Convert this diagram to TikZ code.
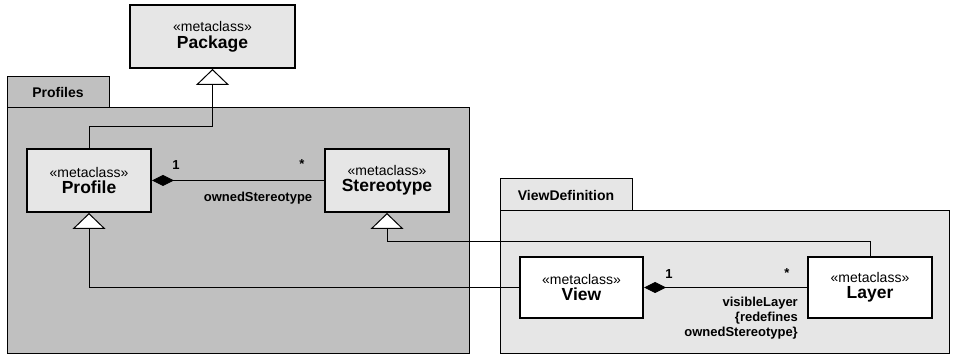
\documentclass[tikz,border=0pt]{standalone}
\usepackage{fontspec}
\setmainfont{Liberation Sans}
\usetikzlibrary{arrows.meta}
\definecolor{pkgdark}{HTML}{C0C0C0}
\definecolor{pkglight}{HTML}{E6E6E6}
\tikzset{
  cls/.style={draw, line width=2pt, minimum width=124pt, minimum height=62pt, align=center, inner sep=0pt},
  pkgshape/.style={draw, line width=1pt, inner sep=0pt},
  conn/.style={line width=1pt},
  gen/.style={conn, -{Triangle[width=33pt,length=16pt,fill=white]}},
  comp/.style={conn, {Diamond[width=11pt,length=22pt]}-},
  mult/.style={font=\fontsize{13}{15}\selectfont\bfseries, inner sep=0pt},
  role/.style={font=\fontsize{13}{15}\selectfont\bfseries, inner sep=0pt, align=right},
  pkglabel/.style={font=\fontsize{14}{16}\selectfont\bfseries, inner sep=0pt}
}
\newcommand{\metacls}[1]{{\fontsize{14}{17}\selectfont «metaclass»}\\[3pt]{\fontsize{17.5}{20}\selectfont\bfseries #1}}
\begin{document}
\begin{tikzpicture}[x=1pt,y=-1pt]
\useasboundingbox (0,0) rectangle (953,355);
% Profiles package
\node[pkgshape, fill=pkgdark, minimum width=102pt, minimum height=31pt] (proftab) at (58,92.5) {};
\node[pkgshape, fill=pkgdark, minimum width=462pt, minimum height=245pt] (profbody) at (238,230.5) {};
\node[pkglabel] (proflabel) at (proftab.center) {Profiles};
% ViewDefinition package
\node[pkgshape, fill=pkglight, minimum width=132pt, minimum height=32pt] (vdtab) at (566,195) {};
\node[pkgshape, fill=pkglight, minimum width=449pt, minimum height=142pt] (vdbody) at (724.5,282) {};
\node[pkglabel] (vdlabel) at (vdtab.center) {ViewDefinition};
% classes
\node[cls, fill=pkglight, minimum width=165pt, minimum height=63pt] (package) at (212.5,36.5) {\metacls{Package}};
\node[cls, fill=pkglight, minimum height=63pt] (profile) at (89,180.5) {\metacls{Profile}};
\node[cls, fill=pkglight, minimum height=63pt] (stereo) at (387,180.5) {\metacls{Stereotype}};
\node[cls, fill=white, minimum width=123pt, minimum height=61pt] (view) at (581.5,287.5) {\metacls{View}};
\node[cls, fill=white, minimum height=61pt] (layer) at (870,287.5) {\metacls{Layer}};
% connectors
\coordinate (pbend) at (89,127);
\coordinate (lbend) at (870,242);
\draw[gen] (profile.north) -- (pbend) -| (package.south);
\draw[gen] (view.west) -| (profile.south);
\draw[gen] (layer.north) -- (lbend) -| (stereo.south);
\draw[comp] (profile.east) -- (stereo.west);
\draw[comp] (view.east) -- (layer.west);
% labels
\node[mult] (m1) at (176,165) {1};
\node[mult] (m2) at (302,164) {*};
\node[role] (r1) at (258,198) {ownedStereotype};
\node[mult] (m3) at (669,274) {1};
\node[mult] (m4) at (787,273) {*};
\node[role, anchor=north east] (r2) at (798,297) {visibleLayer\\{\{}redefines\\ownedStereotype{\}}};
\end{tikzpicture}
\end{document}
